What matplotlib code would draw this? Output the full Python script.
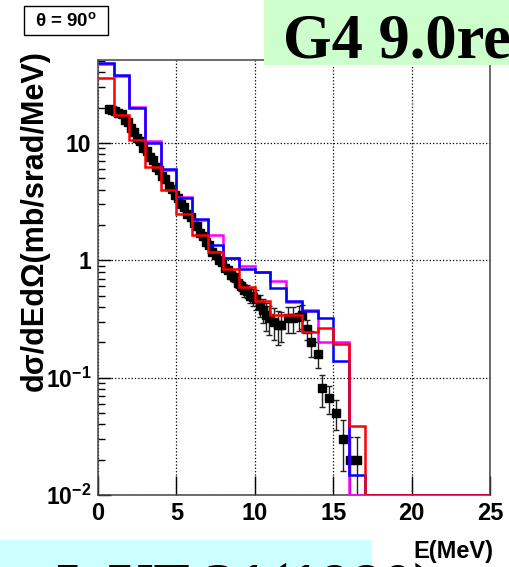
import numpy as np
import matplotlib
matplotlib.use("Agg")
import matplotlib.pyplot as plt
from matplotlib.patches import Rectangle

plt.rcParams['font.family'] = ['Liberation Sans', 'DejaVu Sans']
plt.rcParams['mathtext.default'] = 'regular'

# measured spectrum (black squares)
e_data = [0.7, 0.9, 1.1, 1.3, 1.5, 1.7, 1.9, 2.1, 2.3, 2.5, 2.7, 2.9, 3.1, 3.3,
          3.5, 3.7, 3.9, 4.1, 4.3, 4.5, 4.7, 4.9, 5.1, 5.3, 5.5, 5.7, 5.9, 6.1,
          6.3, 6.5, 6.7, 6.9, 7.1, 7.3, 7.5, 7.7, 7.9, 8.1, 8.3, 8.5, 8.7, 8.9,
          9.1, 9.3, 9.5, 9.7, 9.9, 10.1, 10.3, 10.5, 10.7, 10.9, 11.2, 11.5,
          11.7, 12.1, 12.45, 12.8, 13.0, 13.3, 13.6, 14.05, 14.3, 14.75, 15.2,
          15.65, 16.07, 16.5]
xs_data = [19.5, 19.0, 18.9, 18.0, 17.6, 15.8, 15.0, 13.4, 12.5, 11.0, 10.4, 9.1,
           8.6, 7.6, 7.1, 6.3, 5.9, 5.2, 4.9, 4.3, 4.05, 3.6, 3.4, 3.0, 2.85,
           2.5, 2.36, 2.08, 1.96, 1.72, 1.62, 1.42, 1.34, 1.18, 1.12, 1.0, 0.96,
           0.86, 0.83, 0.75, 0.72, 0.64, 0.61, 0.56, 0.55, 0.50, 0.49, 0.47,
           0.42, 0.38, 0.34, 0.32, 0.30, 0.28, 0.28, 0.32, 0.32, 0.33, 0.34,
           0.26, 0.20, 0.16, 0.081, 0.067, 0.050, 0.030, 0.020, 0.020]
err_data = [0.6, 0.6, 0.6, 0.5, 0.5, 0.5, 0.4, 0.4, 0.4, 0.3, 0.3, 0.3, 0.3, 0.2,
            0.2, 0.2, 0.2, 0.2, 0.15, 0.15, 0.12, 0.12, 0.1, 0.1, 0.1, 0.08,
            0.08, 0.07, 0.07, 0.06, 0.06, 0.05, 0.05, 0.05, 0.05, 0.05, 0.05,
            0.05, 0.05, 0.05, 0.06, 0.06, 0.06, 0.07, 0.07, 0.07, 0.08, 0.09,
            0.09, 0.09, 0.09, 0.09, 0.09, 0.09, 0.08, 0.08, 0.08, 0.08, 0.08,
            0.05, 0.05, 0.04, 0.025, 0.018, 0.014, 0.014, 0.011, 0.011]

# Geant4 predictions, 1 MeV bins from 0 to 25 MeV
edges = np.arange(0, 26, 1)
hist_blue = [48, 38, 19.8, 10.0, 5.96, 3.37, 2.23, 1.34, 1.05, 0.85, 0.80, 0.58,
             0.446, 0.37, 0.32, 0.138, 0.0147, 0, 0, 0, 0, 0, 0, 0, 0]
hist_magenta = [47, 37, 20.4, 10.5, 5.9, 3.5, 2.2, 1.63, 1.04, 0.89, 0.79, 0.665,
                0.44, 0.38, 0.20, 0.20, 0, 0, 0, 0, 0, 0, 0, 0, 0]
hist_red = [36, 17.4, 10.7, 6.3, 3.97, 2.47, 1.63, 1.18, 0.85, 0.59, 0.45, 0.34,
            0.34, 0.245, 0.265, 0.195, 0.039, 0, 0, 0, 0, 0, 0, 0, 0]

xticks = [0, 5, 10, 15, 20, 25]
yticks = [0.01, 0.1, 1, 10]
ytick_labels = ['10$^{-2}$', '10$^{-1}$', '1', '10']

ymin, ymax = 0.01, 51

fig = plt.figure(figsize=(5.09, 5.67), dpi=100)
ax = fig.add_axes([98 / 509, 72 / 567, 392 / 509, 435 / 567])
ax.set_yscale('log')
ax.set_xlim(0, 25)
ax.set_ylim(ymin, ymax)

for vals, col in [(hist_magenta, '#ff00ff'), (hist_blue, '#0000ff'), (hist_red, '#ff0000')]:
    ax.stairs(np.clip(vals, ymin, None), edges, color=col, lw=1.8, baseline=None, zorder=4)

ax.errorbar(e_data, xs_data, yerr=err_data, fmt='s', color='black', ms=6.2,
            ecolor='#222222', elinewidth=1, capsize=2.5, capthick=1, zorder=3)

ax.grid(True, which='major', ls=':', color='black', lw=0.9)
ax.set_xticks(xticks)
ax.set_xticklabels([str(t) for t in xticks])
ax.set_yticks(yticks)
ax.set_yticklabels(ytick_labels)
ax.tick_params(axis='x', which='major', direction='in', length=14, width=1, pad=5,
               labelsize=17, top=False)
ax.tick_params(axis='x', which='minor', bottom=False, top=False)
ax.tick_params(axis='y', which='major', direction='in', length=9.5, width=1, pad=5,
               labelsize=16.5, right=False)
ax.tick_params(axis='y', which='minor', direction='in', length=5, width=1, right=False)
for lab in ax.get_xticklabels() + ax.get_yticklabels():
    lab.set_fontweight('bold')
for sp in ax.spines.values():
    sp.set_color('#444444')
    sp.set_linewidth(1.1)

fig.text(35 / 509, 1 - 50 / 567, 'd\u03c3/dEd\u03a9(mb/srad/MeV)', rotation=90,
         ha='center', va='top', fontsize=22, fontweight='bold')
fig.text(493 / 509, 1 - 563 / 567, 'E(MeV)', ha='right', va='bottom',
         fontsize=17, fontweight='bold')

# angle label
fig.add_artist(Rectangle((24 / 509, 1 - 35 / 567), 84 / 509, 29 / 567,
                         transform=fig.transFigure, facecolor='white',
                         edgecolor='black', lw=1, zorder=5))
fig.text(66 / 509, 1 - 21 / 567, '\u03b8 = 90$^{o}$', ha='center', va='center',
         fontsize=13.5, fontweight='bold', zorder=6)

# version banner
fig.add_artist(Rectangle((264 / 509, 1 - 65 / 567), 245 / 509, 65 / 567,
                         transform=fig.transFigure, facecolor='#ccffcc',
                         edgecolor='none', zorder=5))
fig.text(283 / 509, 1 - 58 / 567, 'G4 9.0ref01', family='Liberation Serif',
         fontweight='bold', fontsize=45, va='baseline', ha='left', zorder=6)

# data reference banner
fig.add_artist(Rectangle((0, 0), 372 / 509, 27 / 567, transform=fig.transFigure,
                         facecolor='#ccffff', edgecolor='none', zorder=5))
fig.text(48 / 509, 1 - 607 / 567, 'J. YF 31(1980), pp. 7', family='Liberation Serif',
         fontweight='bold', fontsize=45, va='baseline', ha='left', zorder=6)

fig.savefig('out.png', dpi=100)
